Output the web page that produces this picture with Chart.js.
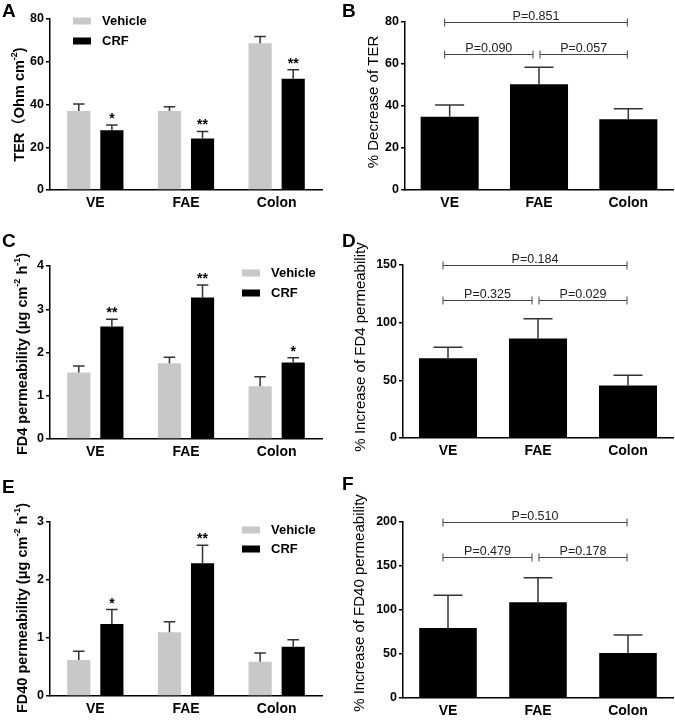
<!DOCTYPE html>
<html>
<head>
<meta charset="utf-8">
<script src="https://cdn.jsdelivr.net/npm/chart.js@4.4.1/dist/chart.umd.min.js"></script>
<style>
  html, body { margin: 0; padding: 0; background: #fff; }
  #fig { position: relative; width: 675px; height: 722px; overflow: hidden; }
  #fig canvas { position: absolute; }
  .lt { position: absolute; font: bold 19px 'Liberation Sans', Arial, sans-serif; line-height: 18px; color: #000; }
</style>
</head>
<body>
<div id="fig">
  <canvas id="cA" width="338" height="240" style="left:0;top:0;width:338px;height:240px"></canvas>
  <canvas id="cB" width="337" height="240" style="left:338px;top:0;width:337px;height:240px"></canvas>
  <canvas id="cC" width="338" height="240" style="left:0;top:240px;width:338px;height:240px"></canvas>
  <canvas id="cD" width="337" height="240" style="left:338px;top:240px;width:337px;height:240px"></canvas>
  <canvas id="cE" width="338" height="242" style="left:0;top:480px;width:338px;height:242px"></canvas>
  <canvas id="cF" width="337" height="242" style="left:338px;top:480px;width:337px;height:242px"></canvas>
  <div class="lt" style="left:2px;top:2px">A</div>
  <div class="lt" style="left:342px;top:2px">B</div>
  <div class="lt" style="left:2px;top:232px">C</div>
  <div class="lt" style="left:342px;top:232px">D</div>
  <div class="lt" style="left:2px;top:478px">E</div>
  <div class="lt" style="left:342px;top:475px">F</div>
</div>
<script>
const FONT = "'Liberation Sans', Arial, 'Noto Sans CJK SC', sans-serif";
const groups = ['VE', 'FAE', 'Colon'];
const seriesNames = ['Vehicle', 'CRF'];

/* A: TER */
const terVehicle    = [37.0, 37.0, 68.6];
const terVehicleErr = [3.2, 1.9, 3.2];
const terCrf        = [27.9, 24.1, 52.0];
const terCrfErr     = [2.5, 3.3, 4.3];
const terCrfStars   = ['*', '**', '**'];

/* B: % decrease of TER */
const terDecrease    = [34.9, 50.4, 33.7];
const terDecreaseErr = [5.6, 8.1, 5.0];
const terDecreaseP   = [['P=0.851', 0, 2, 80], ['P=0.090', 0, 1, 65], ['P=0.057', 1, 2, 65]];

/* C: FD4 permeability */
const fd4Vehicle    = [1.54, 1.75, 1.22];
const fd4VehicleErr = [0.15, 0.14, 0.22];
const fd4Crf        = [2.60, 3.27, 1.77];
const fd4CrfErr     = [0.17, 0.29, 0.11];
const fd4CrfStars   = ['**', '**', '*'];

/* D: % increase of FD4 permeability */
const fd4Increase    = [69.2, 86.2, 45.6];
const fd4IncreaseErr = [9.5, 17.3, 8.9];
const fd4IncreaseP   = [['P=0.184', 0, 2, 150], ['P=0.325', 0, 1, 120], ['P=0.029', 1, 2, 120]];

/* E: FD40 permeability */
const fd40Vehicle    = [0.62, 1.10, 0.59];
const fd40VehicleErr = [0.15, 0.18, 0.15];
const fd40Crf        = [1.24, 2.29, 0.85];
const fd40CrfErr     = [0.25, 0.31, 0.12];
const fd40CrfStars   = ['*', '**', ''];

/* F: % increase of FD40 permeability */
const fd40Increase    = [79.5, 108.7, 51.1];
const fd40IncreaseErr = [37.2, 28.0, 20.5];
const fd40IncreaseP   = [['P=0.510', 0, 2, 200], ['P=0.479', 0, 1, 160], ['P=0.178', 1, 2, 160]];

/* y axis ranges: [max, step] */
const terAxis = [80, 20], terDecAxis = [80, 20];
const fd4Axis = [4, 1], fd4IncAxis = [150, 50];
const fd40Axis = [3, 1], fd40IncAxis = [200, 50];

const GREY = '#c8c8c8', BLACK = '#000';

/* ── rotated axis title with superscripts ── */
function drawTitle(ctx, t) {
  const size = t.size, font = `${t.bold ? 'bold ' : ''}${size}px ${FONT}`;
  const sfont = `${t.bold ? 'bold ' : ''}${Math.round(size * 0.62)}px ${FONT}`;
  ctx.save();
  ctx.translate(t.x, t.y);
  ctx.rotate(-Math.PI / 2);
  ctx.fillStyle = '#000';
  ctx.textBaseline = 'alphabetic';
  ctx.textAlign = 'left';
  let total = 0;
  t.parts.forEach(p => { ctx.font = p.sup ? sfont : font; total += ctx.measureText(p.t).width; });
  let cx = -total / 2;
  const base = size * 0.36;
  t.parts.forEach(p => {
    ctx.font = p.sup ? sfont : font;
    ctx.fillText(p.t, cx, p.sup ? base - size * 0.45 : base);
    cx += ctx.measureText(p.t).width;
  });
  ctx.restore();
}

/* ── error bars, stars, brackets, legend, titles ── */
const extras = {
  id: 'extras',
  afterDatasetsDraw(chart, args, o) {
    const ctx = chart.ctx, ys = chart.scales.y, xs = chart.scales.x;
    ctx.save();
    chart.data.datasets.forEach((ds, i) => {
      const meta = chart.getDatasetMeta(i);
      meta.data.forEach((bar, j) => {
        const top = ys.getPixelForValue(ds.data[j] + ds.err[j]);
        const cap = bar.width / 4;
        ctx.strokeStyle = '#333';
        ctx.lineWidth = 1.5;
        ctx.beginPath();
        ctx.moveTo(bar.x, bar.y);
        ctx.lineTo(bar.x, top);
        ctx.moveTo(bar.x - cap, top);
        ctx.lineTo(bar.x + cap, top);
        ctx.stroke();
        if (ds.stars && ds.stars[j]) {
          ctx.fillStyle = '#000';
          ctx.font = `bold 14px ${FONT}`;
          ctx.textAlign = 'center';
          ctx.textBaseline = 'alphabetic';
          ctx.fillText(ds.stars[j], bar.x, top - 2);
        }
      });
    });

    (o.brackets || []).forEach(([txt, i, j, v]) => {
      const y = Math.round(ys.getPixelForValue(v)) + 0.5;
      const x1 = xs.getPixelForValue(i) + (i === 0 ? -5 : 1);
      const x2 = xs.getPixelForValue(j) + (j === 1 ? -6 : -1);
      ctx.strokeStyle = '#444';
      ctx.lineWidth = 1;
      ctx.beginPath();
      ctx.moveTo(x1, y); ctx.lineTo(x2, y);
      ctx.moveTo(x1, y - 4); ctx.lineTo(x1, y + 4);
      ctx.moveTo(x2, y - 4); ctx.lineTo(x2, y + 4);
      ctx.stroke();
      ctx.fillStyle = '#222';
      ctx.font = `12.5px ${FONT}`;
      ctx.textAlign = 'center';
      ctx.textBaseline = 'alphabetic';
      ctx.fillText(txt, (x1 + x2) / 2, y - 3);
    });

    if (o.legend) {
      chart.data.datasets.forEach((ds, i) => {
        const cy = o.legend.y + i * o.legend.gap;
        ctx.fillStyle = ds.backgroundColor;
        ctx.fillRect(o.legend.x, cy - 3.5, 18, 7);
        ctx.fillStyle = '#000';
        ctx.font = `bold 13px ${FONT}`;
        ctx.textAlign = 'left';
        ctx.textBaseline = 'middle';
        ctx.fillText(ds.label, o.legend.x + 29, cy);
      });
    }
    ctx.restore();
    if (o.title) drawTitle(ctx, o.title);
  }
};

function panel(id, box, datasets, axis, catPct, barPct, extraOpts) {
  const c = document.getElementById(id);
  return new Chart(c, {
    type: 'bar',
    data: { labels: groups, datasets },
    plugins: [extras],
    options: {
      responsive: false,
      animation: false,
      events: [],
      datasets: { bar: { categoryPercentage: catPct, barPercentage: barPct } },
      layout: { padding: { left: 0, top: box.top, right: c.width - box.right, bottom: 0 } },
      plugins: { legend: { display: false }, tooltip: { enabled: false }, extras: extraOpts },
      scales: {
        x: {
          ticks: { color: '#000', padding: 5, font: { family: FONT, size: 14, weight: 'bold' } },
          grid: { display: false, drawTicks: false, tickLength: 0 },
          border: { color: '#000', width: 1.5 },
          afterFit: s => { s.height = c.height - box.bottom; }
        },
        y: {
          min: 0, max: axis[0],
          ticks: { stepSize: axis[1], color: '#000', padding: 2, font: { family: FONT, size: 12.5, weight: 'bold' } },
          grid: { display: true, drawOnChartArea: false, drawTicks: true, tickLength: 4, color: '#000', lineWidth: 1.5 },
          border: { color: '#000', width: 1.5 },
          afterFit: s => { s.width = box.left; }
        }
      }
    }
  });
}

function pair(v, ve, c, ce, stars) {
  return [
    { label: seriesNames[0], data: v, err: ve, backgroundColor: GREY },
    { label: seriesNames[1], data: c, err: ce, stars: stars, backgroundColor: BLACK }
  ];
}
function single(v, ve) {
  return [{ label: '', data: v, err: ve, backgroundColor: BLACK }];
}

panel('cA', { left: 50, right: 322, top: 19, bottom: 190 },
  pair(terVehicle, terVehicleErr, terCrf, terCrfErr, terCrfStars), terAxis, 0.73, 0.7, {
    legend: { x: 73, y: 21, gap: 20 },
    title: { x: 18.5, y: 104.5, size: 14.5, bold: true,
      parts: [{ t: 'TER（Ohm cm' }, { t: '-2', sup: true }, { t: ')' }] }
  });

panel('cB', { left: 67, right: 335, top: 22, bottom: 190 },
  single(terDecrease, terDecreaseErr), terDecAxis, 0.65, 1, {
    brackets: terDecreaseP,
    title: { x: 34.5, y: 102, size: 15, bold: false, parts: [{ t: '% Decrease of TER' }] }
  });

panel('cC', { left: 50, right: 322, top: 26, bottom: 199 },
  pair(fd4Vehicle, fd4VehicleErr, fd4Crf, fd4CrfErr, fd4CrfStars), fd4Axis, 0.73, 0.7, {
    legend: { x: 242, y: 33, gap: 20 },
    title: { x: 21.5, y: 114, size: 14.5, bold: true,
      parts: [{ t: 'FD4 permeability (μg cm' }, { t: '-2', sup: true }, { t: ' h' }, { t: '-1', sup: true }, { t: ')' }] }
  });

panel('cD', { left: 65, right: 335, top: 25, bottom: 198 },
  single(fd4Increase, fd4IncreaseErr), fd4IncAxis, 0.645, 1, {
    brackets: fd4IncreaseP,
    title: { x: 22, y: 107, size: 15, bold: false, parts: [{ t: '% Increase of FD4 permeability' }] }
  });

panel('cE', { left: 50, right: 322, top: 42, bottom: 216 },
  pair(fd40Vehicle, fd40VehicleErr, fd40Crf, fd40CrfErr, fd40CrfStars), fd40Axis, 0.73, 0.7, {
    legend: { x: 242, y: 50, gap: 19 },
    title: { x: 21.5, y: 128, size: 14.5, bold: true,
      parts: [{ t: 'FD40 permeability (μg cm' }, { t: '-2', sup: true }, { t: ' h' }, { t: '-1', sup: true }, { t: ')' }] }
  });

panel('cF', { left: 65, right: 335, top: 42, bottom: 218 },
  single(fd40Increase, fd40IncreaseErr), fd40IncAxis, 0.64, 1, {
    brackets: fd40IncreaseP,
    title: { x: 21, y: 123, size: 15, bold: false, parts: [{ t: '% Increase of FD40 permeability' }] }
  });
</script>
</body>
</html>
